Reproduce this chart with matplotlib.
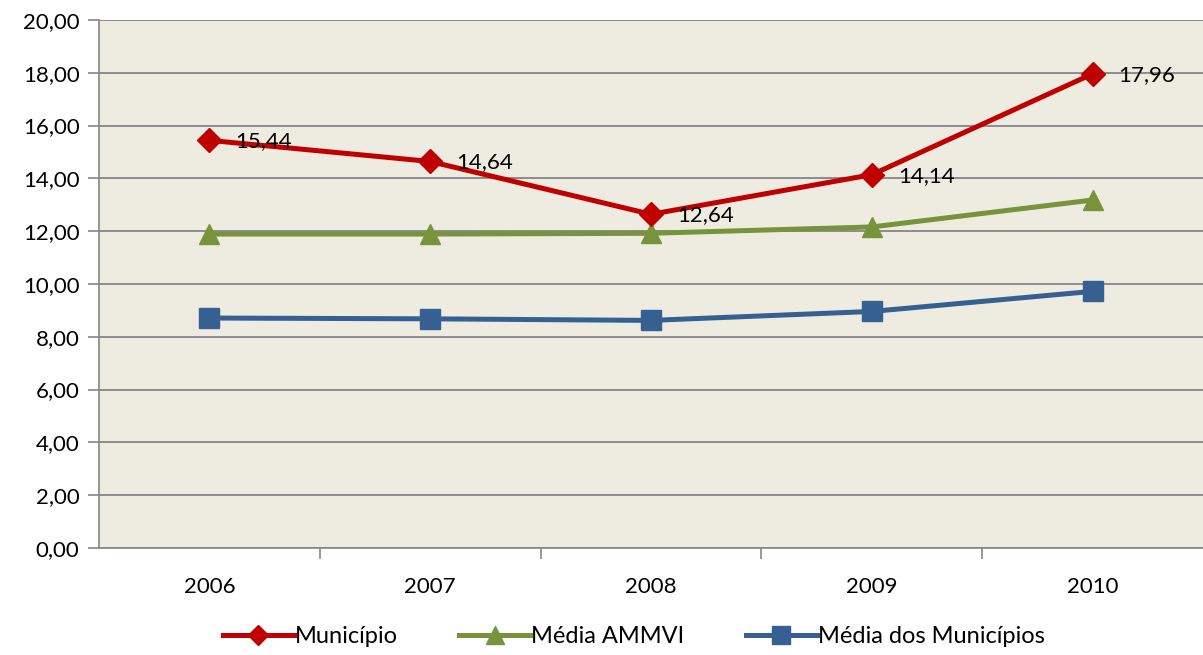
import matplotlib.pyplot as plt
import numpy as np

plt.rcParams['font.family'] = ['Lato', 'DejaVu Sans']

anos = ['2006', '2007', '2008', '2009', '2010']
municipio = [15.44, 14.64, 12.64, 14.14, 17.96]
media_ammvi = [11.89, 11.89, 11.92, 12.16, 13.18]
media_municipios = [8.71, 8.68, 8.62, 8.96, 9.72]

rotulos = ['15,44', '14,64', '12,64', '14,14', '17,96']

fig = plt.figure(figsize=(12.03, 6.55), dpi=100)
ax = fig.add_axes([0.0823, 0.1634, 0.9177, 0.8061])
ax.set_facecolor('#EEECE1')

x = np.arange(len(anos))

ax.plot(x, municipio, color='#C00000', lw=3.6, marker='D', ms=12, label='Município', zorder=5)
ax.plot(x, media_ammvi, color='#77933C', lw=3.6, marker='^', ms=15, label='Média AMMVI', zorder=4)
ax.plot(x, media_municipios, color='#376092', lw=3.6, marker='s', ms=15, label='Média dos Municípios', zorder=4)

for xi, yi, r in zip(x, municipio, rotulos):
    ax.annotate(r, (xi, yi), xytext=(26, -1), textcoords='offset pixels',
                ha='left', va='center', fontsize=16, color='black', zorder=6)

ax.set_xlim(-0.5, 4.5)
ax.set_ylim(0, 20)
ax.set_yticks(np.arange(0, 21, 2))
ax.set_yticklabels([f'{v:.2f}'.replace('.', ',') for v in np.arange(0, 21, 2)], fontsize=16)
ax.set_xticks(x)
ax.set_xticklabels(anos, fontsize=16)
ax.set_xticks(np.arange(0.5, 4.5, 1), minor=True)
ax.tick_params(axis='x', which='major', length=0, pad=21)
ax.tick_params(axis='x', which='minor', length=8, color='#868686', width=1.2)
ax.tick_params(axis='y', length=8, color='#868686', width=1.2, pad=6)

ax.grid(axis='y', color='#8C8C8C', lw=1.4)
ax.set_axisbelow(True)
for s in ['top', 'right']:
    ax.spines[s].set_visible(False)
for s in ['left', 'bottom']:
    ax.spines[s].set_color('#868686')
    ax.spines[s].set_linewidth(1.2)

fig.legend(loc='lower center', bbox_to_anchor=(0.527, -0.02), ncol=3, frameon=False,
           fontsize=17, handlelength=3, columnspacing=2.6, handletextpad=0.05, markerscale=0.85)

fig.savefig('out.png', dpi=100)
